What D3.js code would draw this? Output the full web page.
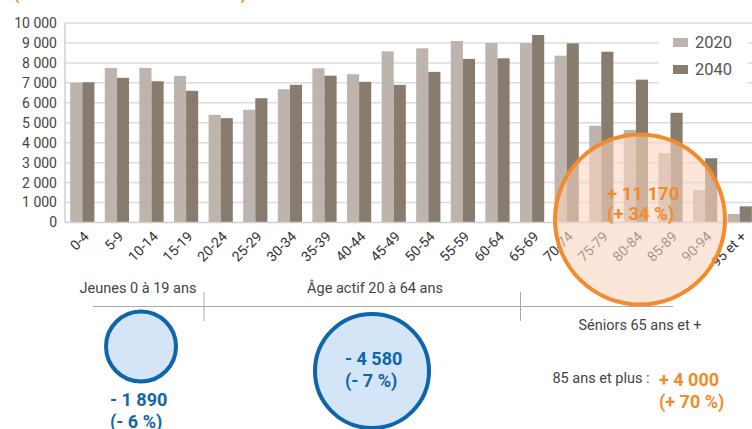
<!DOCTYPE html>
<html>
<head>
<meta charset="utf-8">
<script src="https://cdn.jsdelivr.net/npm/d3@7"></script>
<style>
  body { margin: 0; background: #fff; }
  text { font-family: Roboto, "Noto Sans", sans-serif; }
</style>
</head>
<body>
<svg id="chart" width="752" height="429"></svg>
<script>
// age groups and population per year
var categories = ['0-4', '5-9', '10-14', '15-19', '20-24', '25-29', '30-34', '35-39', '40-44', '45-49',
  '50-54', '55-59', '60-64', '65-69', '70-74', '75-79', '80-84', '85-89', '90-94', '95 et +'];
var years = ['2020', '2040'];
var pop2020 = [7000, 7750, 7750, 7350, 5400, 5650, 6680, 7730, 7430, 8580,
  8730, 9100, 9000, 9000, 8360, 4850, 4640, 3480, 1630, 430];
var pop2040 = [7030, 7250, 7080, 6600, 5230, 6230, 6900, 7360, 7050, 6900,
  7550, 8200, 8230, 9400, 8980, 8560, 7160, 5500, 3220, 810];
var yTicks = [0, 1000, 2000, 3000, 4000, 5000, 6000, 7000, 8000, 9000, 10000];

var colors = { '2020': '#bcb4ad', '2040': '#877c6e' };
var orange = '#f38b2c';
var blue = '#0f65aa';

var svg = d3.select('#chart');

var x = d3.scaleBand().domain(categories).range([65, 65 + 20 * 34.6])
  .paddingInner(0.3).paddingOuter(0.15);
var xSub = d3.scaleBand().domain(years).range([0, x.bandwidth()]);
var y = d3.scaleLinear().domain([0, 10000]).range([222.5, 23]);

// cut-off title at the very top
svg.append('text')
  .attr('x', 13).attr('y', -1)
  .attr('textLength', 234)
  .attr('font-size', 18).attr('font-weight', 'bold')
  .attr('fill', orange)
  .text("(en nombre d'habitants)");

// grid
svg.append('g').selectAll('line')
  .data(yTicks.slice(1))
  .enter().append('line')
  .attr('x1', 65).attr('x2', 752)
  .attr('y1', function(d) { return y(d); })
  .attr('y2', function(d) { return y(d); })
  .attr('stroke', '#dcdcdc').attr('stroke-width', 1.5);

// y labels
svg.append('g').selectAll('text')
  .data(yTicks)
  .enter().append('text')
  .attr('x', 57)
  .attr('y', function(d) { return y(d); })
  .attr('dy', '0.35em')
  .attr('text-anchor', 'end')
  .attr('font-size', 14)
  .attr('fill', '#444')
  .text(function(d) { return d3.format(',')(d).replace(/,/g, ' '); });

// bars
var rows = categories.map(function(c, i) {
  return { cat: c, values: [{ year: '2020', v: pop2020[i] }, { year: '2040', v: pop2040[i] }] };
});
var groups = svg.append('g').selectAll('g')
  .data(rows)
  .enter().append('g')
  .attr('transform', function(d) { return 'translate(' + x(d.cat) + ',0)'; });
groups.selectAll('rect')
  .data(function(d) { return d.values; })
  .enter().append('rect')
  .attr('x', function(d) { return xSub(d.year); })
  .attr('width', xSub.bandwidth())
  .attr('y', function(d) { return y(d.v); })
  .attr('height', function(d) { return y(0) - y(d.v); })
  .attr('fill', function(d) { return colors[d.year]; });

// axes lines
svg.append('line').attr('x1', 65).attr('x2', 65).attr('y1', y(10000)).attr('y2', y(0))
  .attr('stroke', '#cfcfcf').attr('stroke-width', 1.5);
svg.append('line').attr('x1', 65).attr('x2', 752).attr('y1', y(0)).attr('y2', y(0))
  .attr('stroke', '#cfcfcf').attr('stroke-width', 1.5);

// x labels
svg.append('g').selectAll('text')
  .data(categories)
  .enter().append('text')
  .attr('transform', function(d) {
    return 'translate(' + (x(d) + x.bandwidth() / 2 + 4) + ',234) rotate(-45)';
  })
  .attr('text-anchor', 'end')
  .attr('dy', '0.35em')
  .attr('font-size', 14)
  .attr('fill', '#333')
  .text(function(d) { return d; });

// legend
var legend = svg.append('g');
legend.append('rect').attr('x', 659).attr('y', 30).attr('width', 89).attr('height', 65).attr('fill', '#fff');
years.forEach(function(yr, i) {
  legend.append('rect').attr('x', 673).attr('y', 38 + i * 27).attr('width', 15).attr('height', 9)
    .attr('fill', colors[yr]);
  legend.append('text').attr('x', 695).attr('y', 48 + i * 27)
    .attr('font-size', 16.5).attr('fill', '#555').text(yr);
});

// seniors highlight
svg.append('circle').attr('cx', 640).attr('cy', 219.5).attr('r', 85)
  .attr('fill', 'rgb(250,214,192)').attr('fill-opacity', 0.6)
  .attr('stroke', orange).attr('stroke-width', 4);
svg.append('text').attr('x', 607).attr('y', 200).attr('font-size', 18.5).attr('font-weight', 'bold')
  .attr('fill', orange).text('+ 11 170');
svg.append('text').attr('x', 607).attr('y', 220).attr('font-size', 18.5).attr('font-weight', 'bold')
  .attr('fill', orange).text('(+ 34 %)');

// bottom brackets
var lineCol = '#a9a9a9';
svg.append('line').attr('x1', 93).attr('x2', 673).attr('y1', 306.5).attr('y2', 306.5)
  .attr('stroke', lineCol).attr('stroke-width', 1);
[204, 520.5].forEach(function(px) {
  svg.append('line').attr('x1', px).attr('x2', px).attr('y1', 292).attr('y2', 321)
    .attr('stroke', lineCol).attr('stroke-width', 1);
});

var groupLabels = [
  { t: 'Jeunes 0 à 19 ans', x: 138, y: 293 },
  { t: 'Âge actif 20 à 64 ans', x: 375, y: 293 },
  { t: 'Séniors 65 ans et +', x: 640, y: 330 },
  { t: '85 ans et plus :', x: 601, y: 383 }
];
svg.append('g').selectAll('text')
  .data(groupLabels)
  .enter().append('text')
  .attr('x', function(d) { return d.x; })
  .attr('y', function(d) { return d.y; })
  .attr('text-anchor', 'middle')
  .attr('font-size', 14.5)
  .attr('fill', '#444')
  .text(function(d) { return d.t; });

// blue circles
svg.append('circle').attr('cx', 141).attr('cy', 346.5).attr('r', 35)
  .attr('fill', '#d3e5f6').attr('stroke', blue).attr('stroke-width', 4);
svg.append('circle').attr('cx', 372).attr('cy', 371).attr('r', 57)
  .attr('fill', '#d3e5f6').attr('stroke', blue).attr('stroke-width', 4);

var changes = [
  { a: '- 1 890', b: '(- 6 %)', x: 110, y: 406, c: blue },
  { a: '- 4 580', b: '(- 7 %)', x: 345, y: 365, c: blue },
  { a: '+ 4 000', b: '(+ 70 %)', x: 659, y: 386, c: orange }
];
changes.forEach(function(d) {
  svg.append('text').attr('x', d.x).attr('y', d.y).attr('font-size', 18).attr('font-weight', 'bold')
    .attr('fill', d.c).text(d.a);
  svg.append('text').attr('x', d.x).attr('y', d.y + 22).attr('font-size', 18).attr('font-weight', 'bold')
    .attr('fill', d.c).text(d.b);
});
</script>
</body>
</html>
